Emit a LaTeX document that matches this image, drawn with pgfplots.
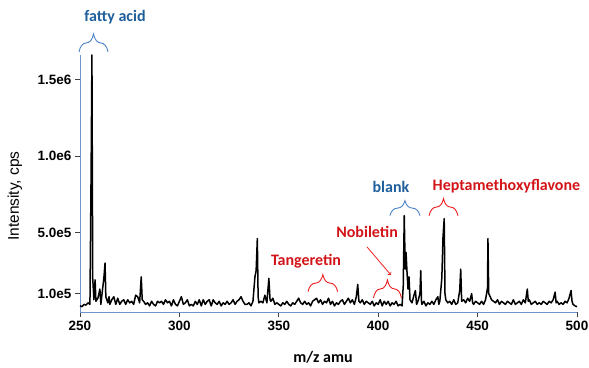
\documentclass[border=0pt]{standalone}
\usepackage{pgfplots}
\pgfplotsset{compat=1.18}
\usepackage{pgfplotstable}
\usepackage{fontspec}
\setmainfont{Liberation Sans}
\newfontfamily\calibri{Carlito}
\usetikzlibrary{decorations.pathreplacing}
\definecolor{axblue}{RGB}{110,150,205}
\definecolor{txtblue}{RGB}{30,95,155}
\definecolor{brblue}{RGB}{75,130,200}
\definecolor{txtred}{RGB}{210,20,25}
\definecolor{brred}{RGB}{235,30,30}

% intensity in units of 1e4 cps
\pgfplotstableread{
mz I
250 2
251 1.5
252 3
253 2.5
254 4
255 3
255.6 91
256 166
256.4 20
257 6
257.6 19
258 5
259 7
260 13
260.5 3
261 9
262 20
262.6 30
263 8
264 4
264.6 8
265 3
266 6
267 8
268 3
269 7
270 3
271 5
272 6
273 3
274 6
275 4
276 5
277 3
278 9
279 8
280 4
280.8 21
281.3 6
282 5
283 3
284 4
285 2
286 5
287 3
288 2
289 5
290 4
291 5
292 3
293 6
294 4
295 5
296 2
297 6
298 3
299 2
300 5
301 8
302 3
303 4
304 6
305 2
306 3
307 2
308 5
309 3
310 6
311 2
312 6
313 3
314 5
315 6
316 2
317 6
318 4
319 3
320 5
321 2
322 4
323 3
324 5
325 3
326 4
327 6
328 3
329 5
330 6
331 8
332 5
333 3
334 3
335 4
336 2
337 5
338 21
338.6 25
339.2 46
339.6 8
340 4
341 5
342 4
343 9
344 4
345 20
345.6 6
346 5
347 7
348 3
349 4
350 3
351 2
352 4
353 3
354 5
355 3
356 2
357 4
358 3
359 5
360 7
361 4
362 3
363 5
364 3
365 4
366 2
367 5
368 6
369 7
370 4
371 6
372 3
373 5
374 4
375 7
376 3
377 5
378 2
379 4
380 3
381 5
382 6
383 3
384 5
385 7
386 4
387 6
388 3
389 8
389.7 16
390.3 5
391 4
392 6
393 3
394 5
395 4
396 3
397 5
398 2
399 4
400 3
401 6
402 2
403 5
404 3
405 5
406 2
407 4
408 3
409 5
410 2
411 3
412 2
412.6 15
413.1 61
413.6 26
414 37
414.5 24
415 13
415.5 21
416 6
417 4
418 9
418.7 12
419.3 3
420 5
421 10
421.4 25
421.8 4
422 3
423 5
424 2
425 4
426 3
427 5
428 3
429 6
430 8
430.5 3
431 5
432 20
432.6 47
433.2 59
433.6 10
434 6
435 4
436 5
437 3
438 6
439 3
440 4
441 12
441.5 26
442 5
443 6
444 4
445 7
446 5
447 10
447.5 4
448 3
449 5
450 4
451 3
452 5
453 3
454 6
455 14
455.2 46
455.6 10
456 9
457 6
458 5
459 4
460 6
461 3
462 5
463 4
464 3
465 5
466 4
467 3
468 6
469 3
470 4
471 5
472 3
473 6
474 4
475 13
475.5 5
476 6
477 3
478 4
479 5
480 3
481 4
482 3
483 5
484 4
485 3
486 5
487 4
488 6
489 11
489.5 4
490 5
491 3
492 4
493 3
494 5
495 4
496 7
497 12
497.5 5
498 3
499 2
500 1.5
}\spectrum

\begin{document}
\begin{tikzpicture}
\begin{axis}[
  at={(0,0)}, anchor=south west,
  scale only axis, width=497pt, height=257pt,
  xmin=250, xmax=500, ymin=-2, ymax=166,
  axis x line=bottom, axis y line=left,
  axis line style={-, axblue, line width=0.9pt},
  xtick={250,300,350,400,450,500},
  xticklabels={250,300,350,400,450,500},
  ytick={10,50,100,150},
  yticklabels={1.0e5,5.0e5,1.0e6,1.5e6},
  tick align=outside, major tick length=5pt,
  tick style={black!75, line width=0.7pt},
  /pgf/number format/assume math mode=true,
  ticklabel style={font=\fontsize{13.5}{15}\selectfont\bfseries},
  xticklabel style={yshift=-1pt},
  clip=false,
]
\addplot[black, line width=1.5pt, line join=round] table[x=mz, y=I] {\spectrum};

% axis labels
\node[rotate=90, font=\fontsize{15.5}{17}\selectfont] at (rel axis cs:-0.131,0.451) {Intensity, cps};
\node[font=\calibri\fontsize{16}{18}\selectfont\bfseries] at (rel axis cs:0.489,-0.178) {m/z amu};

% annotations
\node[font=\calibri\fontsize{16}{18}\selectfont\bfseries, text=txtblue] at (axis cs:267.6,190.8) {fatty acid};
\draw[brblue, line width=0.9pt, decorate, decoration={brace, amplitude=18pt}] (axis cs:249.5,168) -- (axis cs:264.1,168);

\node[font=\calibri\fontsize{16}{18}\selectfont\bfseries, text=txtblue] at (axis cs:406.4,79.7) {blank};
\draw[brblue, line width=0.9pt, decorate, decoration={brace, amplitude=15pt}] (axis cs:405.9,61) -- (axis cs:421,61);

\node[font=\calibri\fontsize{16}{18}\selectfont\bfseries, text=txtred] at (axis cs:464.5,80.4) {Heptamethoxyflavone};
\draw[brred, line width=0.9pt, decorate, decoration={brace, amplitude=17pt}] (axis cs:425.6,61) -- (axis cs:440.1,61);

\node[font=\calibri\fontsize{16}{18}\selectfont\bfseries, text=txtred] at (axis cs:394.4,50.3) {Nobiletin};
\draw[brred, line width=0.8pt, ->] (axis cs:394.4,40.5) -- (axis cs:406.4,22.2);
\draw[brred, line width=0.9pt, decorate, decoration={brace, amplitude=18pt}] (axis cs:397.6,7.2) -- (axis cs:411.7,7.2);

\node[font=\calibri\fontsize{16}{18}\selectfont\bfseries, text=txtred] at (axis cs:363.7,31.4) {Tangeretin};
\draw[brred, line width=0.9pt, decorate, decoration={brace, amplitude=17pt}] (axis cs:364.7,11.3) -- (axis cs:379.6,11.3);
\end{axis}
\pgfresetboundingbox
\path[use as bounding box] (-80pt,-55pt) rectangle (509pt,312pt);
\end{tikzpicture}
\end{document}
